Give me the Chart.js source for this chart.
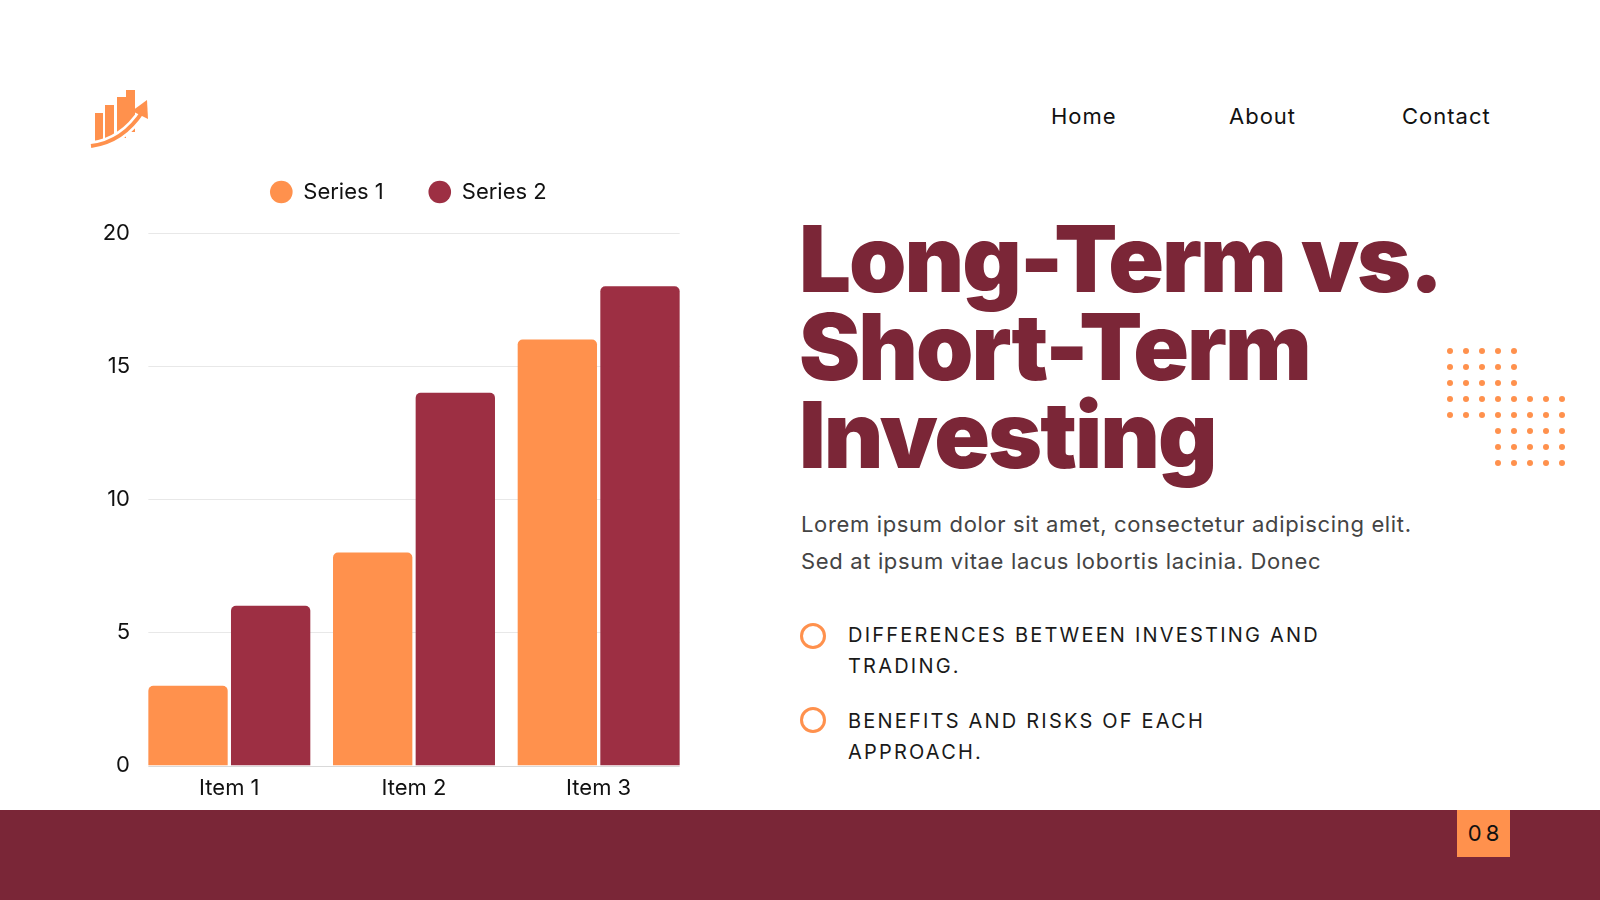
<!DOCTYPE html>
<html>
<head>
<meta charset="utf-8">
<script src="https://cdn.jsdelivr.net/npm/chart.js@4.4.1/dist/chart.umd.min.js"></script>
<style>
  html, body { margin: 0; padding: 0; background: #ffffff; }
  body { width: 1600px; height: 900px; position: relative; overflow: hidden; font-family: Inter, "Noto Sans", sans-serif; }
  .abs { position: absolute; white-space: nowrap; }
  #chartWrap { position: absolute; left: 0; top: 120px; width: 720px; height: 702px; }
  .nav { font-size: 22px; color: #111; top: 103px; letter-spacing: 1px; }
  #title { left: 799px; top: 215px; color: #7B2637; font-weight: 900; font-size: 92px; line-height: 88px; letter-spacing: -2px; }
  #lorem { left: 801px; top: 506px; color: #444; font-size: 22px; line-height: 37px; letter-spacing: 0.65px; }
  .bul { position: absolute; width: 20px; height: 20px; border: 3px solid #FF914D; border-radius: 50%; }
  .btxt { left: 848px; color: #1a1a1a; font-size: 20px; line-height: 31px; letter-spacing: 2.2px; }
  #footer { position: absolute; left: 0; top: 810px; width: 1600px; height: 90px; background: #7A2637; }
  #pnum { position: absolute; left: 1457px; top: 810px; width: 53px; height: 47px; background: #FF914D; color: #111; font-size: 22px; line-height: 47px; text-align: center; letter-spacing: 4px; text-indent: 4px; }
  .dot { position: absolute; width: 6px; height: 6px; border-radius: 50%; background: #FF914D; }
</style>
</head>
<body>
<svg class="abs" style="left:88px;top:84px" width="66" height="66" viewBox="0 0 66 66">
  <rect x="7" y="29" width="8" height="31" fill="#FF914D"/>
  <rect x="17" y="21" width="9" height="37" fill="#FF914D"/>
  <rect x="29" y="13" width="9" height="41" fill="#FF914D"/>
  <rect x="38" y="6" width="9" height="42" fill="#FF914D"/>
  <path d="M3 62 Q35 58 55 27" stroke="#ffffff" stroke-width="9" fill="none"/>
  <path d="M3 62 Q35 58 55 27" stroke="#FF914D" stroke-width="4" fill="none"/>
  <polygon points="59,16 60,35 44,27" fill="#FF914D"/>
</svg>

<div class="abs nav" style="left:1051px">Home</div>
<div class="abs nav" style="left:1229px">About</div>
<div class="abs nav" style="left:1402px">Contact</div>

<div id="chartWrap"><canvas id="c"></canvas></div>

<div id="title" class="abs">Long-Term vs.<br>Short-Term<br>Investing</div>
<div id="lorem" class="abs">Lorem ipsum dolor sit amet, consectetur adipiscing elit.<br>Sed at ipsum vitae lacus lobortis lacinia. Donec</div>

<div class="bul" style="left:800px;top:623px"></div>
<div class="abs btxt" style="top:620px">DIFFERENCES BETWEEN INVESTING AND<br>TRADING.</div>
<div class="bul" style="left:800px;top:707px"></div>
<div class="abs btxt" style="top:706px">BENEFITS AND RISKS OF EACH<br>APPROACH.</div>

<div id="dots"></div>

<div id="footer"></div>
<div id="pnum">08</div>

<script>
// ---- data ----
const categories = ['Item 1', 'Item 2', 'Item 3'];
const seriesNames = ['Series 1', 'Series 2'];
const series1 = [3, 8, 16];
const series2 = [6, 14, 18];
const yTickValues = [0, 5, 10, 15, 20];

// ---- decorative dot grid ----
(function () {
  const host = document.getElementById('dots');
  const rows = [
    [0, 4], [0, 4], [0, 4], [0, 7], [0, 7], [3, 7], [3, 7], [3, 7]
  ];
  rows.forEach((r, ri) => {
    for (let ci = r[0]; ci <= r[1]; ci++) {
      const d = document.createElement('div');
      d.className = 'dot';
      d.style.left = (1447 + ci * 16) + 'px';
      d.style.top = (348 + ri * 16) + 'px';
      host.appendChild(d);
    }
  });
})();

const ORANGE = '#FF914D';
const RED = '#9D2F43';

Chart.defaults.font.family = 'Inter, "Noto Sans", sans-serif';
Chart.defaults.color = '#111111';

const legendGap = {
  id: 'legendGap',
  beforeInit(chart) {
    const lg = chart.legend;
    if (!lg) return;
    const fit = lg.fit;
    lg.fit = function () { fit.call(this); this.height += 20; };
  },
  afterLayout(chart) {
    // widen the y-axis label clip box to the left so its labels are not cut
    chart.scales.y.left = 40;
  }
};

// gridlines spanning from the first bar's left edge to the last bar's right edge
const barGrid = {
  id: 'barGrid',
  beforeDatasetsDraw(chart) {
    const ctx = chart.ctx;
    const y = chart.scales.y;
    const metas = chart.getSortedVisibleDatasetMetas();
    if (!metas.length) return;
    const firstEl = metas[0].data[0];
    const lastMeta = metas[metas.length - 1];
    const lastEl = lastMeta.data[lastMeta.data.length - 1];
    const x0 = firstEl.x - firstEl.width / 2;
    const x1 = lastEl.x + lastEl.width / 2;
    ctx.save();
    ctx.lineWidth = 1;
    y.ticks.forEach(t => {
      const py = Math.round(y.getPixelForValue(t.value)) + 0.5;
      ctx.strokeStyle = t.value === 0 ? '#d9d9d9' : '#e8e8e8';
      ctx.beginPath();
      ctx.moveTo(x0, py);
      ctx.lineTo(x1, py);
      ctx.stroke();
    });
    ctx.restore();
  }
};

new Chart(document.getElementById('c'), {
  type: 'bar',
  data: {
    labels: categories,
    datasets: [
      { label: seriesNames[0], data: series1, backgroundColor: ORANGE, borderRadius: 5, borderSkipped: 'start' },
      { label: seriesNames[1], data: series2, backgroundColor: RED, borderRadius: 5, borderSkipped: 'start' }
    ]
  },
  options: {
    responsive: true,
    maintainAspectRatio: false,
    animation: false,
    devicePixelRatio: 1,
    layout: { padding: { left: 126, right: 29, top: 16, bottom: 10 } },
    datasets: { bar: { categoryPercentage: 0.895, barPercentage: 0.96 } },
    plugins: {
      legend: {
        position: 'top',
        align: 'center',
        labels: {
          usePointStyle: true,
          pointStyle: 'circle',
          boxWidth: 22,
          boxHeight: 16,
          padding: 45,
          color: '#111',
          font: { size: 22 }
        }
      },
      tooltip: { enabled: false }
    },
    scales: {
      x: {
        grid: { display: false, drawTicks: false },
        border: { display: false },
        ticks: { padding: 10, color: '#111', font: { size: 22 } }
      },
      y: {
        min: yTickValues[0],
        max: yTickValues[yTickValues.length - 1],
        afterFit(scale) { scale.width = 11; },
        afterBuildTicks(scale) { scale.ticks = yTickValues.map(v => ({ value: v })); },
        grid: { display: false, drawTicks: false },
        border: { display: false },
        ticks: { padding: 7, color: '#111', font: { size: 22 } }
      }
    }
  },
  plugins: [legendGap, barGrid]
});
</script>
</body>
</html>
